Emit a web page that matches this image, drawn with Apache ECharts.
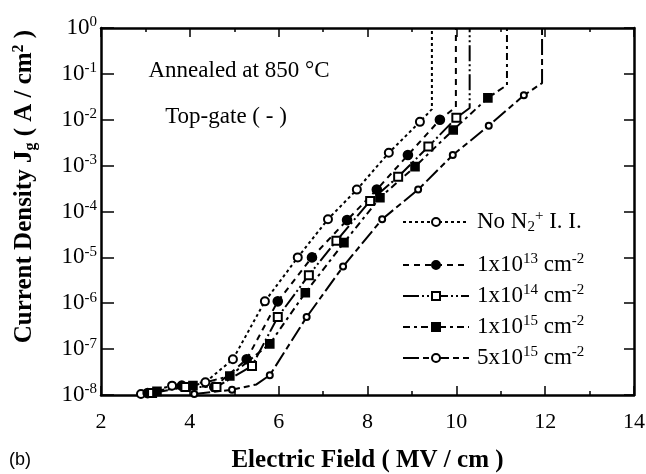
<!DOCTYPE html>
<html><head><meta charset="utf-8">
<script src="https://cdn.jsdelivr.net/npm/echarts@6/dist/echarts.min.js"></script>
<style>html,body{margin:0;padding:0;background:#fff}#c{width:646px;height:474px}</style>
</head><body><div id="c"></div>
<script>
// ---- data ----
const xAxisMin = 2, xAxisMax = 14, xAxisStep = 2;
const yAxisMin = 1e-8, yAxisMax = 1;
const seriesNames = ['No N2+ I. I.', '1x10^13 cm^-2', '1x10^14 cm^-2', '1x10^15 cm^-2', '5x10^15 cm^-2'];
const legendLabels = [
  'No N{sub|2}{sup|+} I. I.',
  '1x10{sup|13} cm{sup|-2}',
  '1x10{sup|14} cm{sup|-2}',
  '1x10{sup|15} cm{sup|-2}',
  '5x10{sup|15} cm{sup|-2}'
];
// last two points of each series: breakdown corner and vertical jump (no markers)
const x_noN2 = [2.9, 3.6, 4.35, 4.97, 5.69, 6.43, 7.11, 7.76, 8.48, 9.18, 9.45, 9.45];
const y_noN2 = [1.05e-8, 1.6e-8, 1.9e-8, 6e-8, 1.1e-6, 1e-5, 6.8e-5, 3e-4, 1.9e-3, 9e-3, 1.7e-2, 1];
const x_1e13 = [3.05, 3.82, 4.55, 5.28, 5.98, 6.75, 7.54, 8.21, 8.91, 9.63, 9.99, 9.99];
const y_1e13 = [1.1e-8, 1.6e-8, 1.5e-8, 6e-8, 1.1e-6, 1e-5, 6.5e-5, 3e-4, 1.7e-3, 1e-2, 1.9e-2, 1];
const x_1e14 = [3.15, 3.9, 4.6, 5.4, 5.98, 6.68, 7.3, 8.06, 8.69, 9.37, 10.0, 10.3, 10.3];
const y_1e14 = [1.1e-8, 1.5e-8, 1.5e-8, 4.3e-8, 5e-7, 4.1e-6, 2.3e-5, 1.7e-4, 5.7e-4, 2.6e-3, 1.1e-2, 1.8e-2, 1];
const x_1e15 = [3.26, 4.07, 4.9, 5.8, 6.6, 7.47, 8.28, 9.07, 9.93, 10.71, 11.14, 11.14];
const y_1e15 = [1.2e-8, 1.6e-8, 2.6e-8, 1.3e-7, 1.7e-6, 2.1e-5, 2e-4, 9.5e-4, 6e-3, 3e-2, 5.7e-2, 1];
const x_5e15 = [4.1, 4.95, 5.5, 5.8, 6.63, 7.45, 8.33, 9.14, 9.92, 10.73, 11.52, 11.93, 11.93];
const y_5e15 = [1.05e-8, 1.3e-8, 1.7e-8, 2.7e-8, 5e-7, 6.3e-6, 6.8e-5, 3e-4, 1.7e-3, 7.4e-3, 3.4e-2, 6.3e-2, 1];
const noMarkIdx_5e15 = [2];

// ---- build ----
const SERIF = '"Liberation Serif", "DejaVu Serif", serif';
const richSS = {
  sup: { fontSize: 15, fontFamily: SERIF, verticalAlign: 'top', color: '#000', lineHeight: 15 },
  sub: { fontSize: 15, fontFamily: SERIF, verticalAlign: 'bottom', color: '#000', lineHeight: 15 }
};
function mk(xs, ys, skip) {
  return xs.map((v, i) => {
    const noMark = i >= xs.length - 2 || (skip && skip.indexOf(i) >= 0);
    return noMark ? { value: [v, ys[i]], symbol: 'none' } : [v, ys[i]];
  });
}
const styles = [
  { symbol: 'emptyCircle', size: 8, dash: [3, 3] },
  { symbol: 'circle', size: 9, dash: [6, 5] },
  { symbol: 'emptyRect', size: 8, dash: [16, 3, 2, 3, 2, 3] },
  { symbol: 'rect', size: 8, dash: [7, 4, 3, 4] },
  { symbol: 'emptyCircle', size: 6, dash: [16, 4, 6, 4] }
];
const datas = [mk(x_noN2, y_noN2), mk(x_1e13, y_1e13), mk(x_1e14, y_1e14), mk(x_1e15, y_1e15), mk(x_5e15, y_5e15, noMarkIdx_5e15)];
const series = datas.map((d, i) => ({
  name: seriesNames[i], type: 'line', data: d,
  symbol: styles[i].symbol, symbolSize: styles[i].size, showSymbol: true,
  lineStyle: { color: '#000', width: 2, type: styles[i].dash },
  itemStyle: { color: '#000', borderColor: '#000', borderWidth: 1.6 },
  animation: false, z: 3
}));
const legendText = {
  color: '#000', fontSize: 23, fontFamily: SERIF, lineHeight: 26, padding: [0, 0, 0, 3],
  rich: richSS
};
const legendFmt = name => legendLabels[seriesNames.indexOf(name)];
const axisLineStyle = { show: true, lineStyle: { color: '#000', width: 2.5 } };

const option = {
  backgroundColor: '#fff',
  animation: false,
  grid: { left: 101, right: 12, top: 28, bottom: 79, containLabel: false, outerBoundsMode: 'none' },
  xAxis: [{
    type: 'value', min: xAxisMin, max: xAxisMax, interval: xAxisStep, position: 'bottom',
    axisLine: axisLineStyle,
    axisTick: { inside: true, length: 9, lineStyle: { color: '#000', width: 1.5 } },
    minorTick: { show: true, splitNumber: 2, length: 4, lineStyle: { color: '#000', width: 1.5 } },
    splitLine: { show: false },
    axisLabel: { color: '#000', fontSize: 22, fontFamily: SERIF, margin: 16 },
    name: 'Electric Field ( MV / cm )', nameLocation: 'middle', nameGap: 53,
    nameTextStyle: { color: '#000', fontSize: 25, fontWeight: 'bold', fontFamily: SERIF }
  }, {
    type: 'value', min: xAxisMin, max: xAxisMax, interval: xAxisStep, position: 'top',
    axisLine: axisLineStyle,
    axisTick: { inside: true, length: 9, lineStyle: { color: '#000', width: 1.5 } },
    minorTick: { show: true, splitNumber: 2, length: 4, lineStyle: { color: '#000', width: 1.5 } },
    splitLine: { show: false }, axisLabel: { show: false }
  }],
  yAxis: [{
    type: 'log', logBase: 10, min: yAxisMin, max: yAxisMax, splitNumber: 8, position: 'left',
    axisLine: axisLineStyle,
    axisTick: { inside: true, length: 13, lineStyle: { color: '#000', width: 1.5 } },
    splitLine: { show: false },
    axisLabel: {
      color: '#000', fontSize: 23, fontFamily: SERIF, margin: 4, lineHeight: 26,
      formatter: v => '10{sup|' + String(Math.round(Math.log10(v))) + '}',
      rich: {
        sup: { fontSize: 15, fontFamily: SERIF, verticalAlign: 'top', color: '#000', lineHeight: 15 }
      }
    },
    name: 'Current Density J{sub|g} ( A / cm{sup|2} )', nameLocation: 'middle', nameRotate: 90, nameGap: 62,
    nameTextStyle: {
      color: '#000', fontSize: 25, fontWeight: 'bold', fontFamily: SERIF, lineHeight: 28, padding: [0, 0, 0, 50],
      rich: {
        sup: { fontSize: 16, fontWeight: 'bold', fontFamily: SERIF, verticalAlign: 'top', lineHeight: 16, color: '#000' },
        sub: { fontSize: 16, fontWeight: 'bold', fontFamily: SERIF, verticalAlign: 'bottom', lineHeight: 16, color: '#000' }
      }
    }
  }, {
    type: 'log', logBase: 10, min: yAxisMin, max: yAxisMax, splitNumber: 8, position: 'right',
    axisLine: axisLineStyle,
    axisTick: { inside: true, length: 10, lineStyle: { color: '#000', width: 1.5 } },
    splitLine: { show: false }, axisLabel: { show: false }
  }],
  legend: [{
    data: [seriesNames[0]], orient: 'vertical', left: 402, top: 209, padding: 0,
    itemWidth: 66, itemHeight: 10, textStyle: legendText, formatter: legendFmt, selectedMode: false
  }, {
    data: seriesNames.slice(1), orient: 'vertical', left: 402, top: 252, itemGap: 5, padding: 0,
    itemWidth: 66, itemHeight: 10, textStyle: legendText, formatter: legendFmt, selectedMode: false
  }],
  graphic: [
    { type: 'text', x: 239, y: 71, style: { text: 'Annealed at 850 °C', fontSize: 23, fontFamily: SERIF, fill: '#000', align: 'center', verticalAlign: 'middle' } },
    { type: 'text', x: 226, y: 117, style: { text: 'Top-gate ( - )', fontSize: 23, fontFamily: SERIF, fill: '#000', align: 'center', verticalAlign: 'middle' } },
    { type: 'text', x: 20, y: 460, style: { text: '(b)', fontSize: 18, fontFamily: '"Liberation Sans", Arial, sans-serif', fill: '#000', align: 'center', verticalAlign: 'middle' } }
  ],
  series: series
};
const chart = echarts.init(document.getElementById('c'), null, { renderer: 'canvas' });
chart.setOption(option);
</script>
</body></html>
